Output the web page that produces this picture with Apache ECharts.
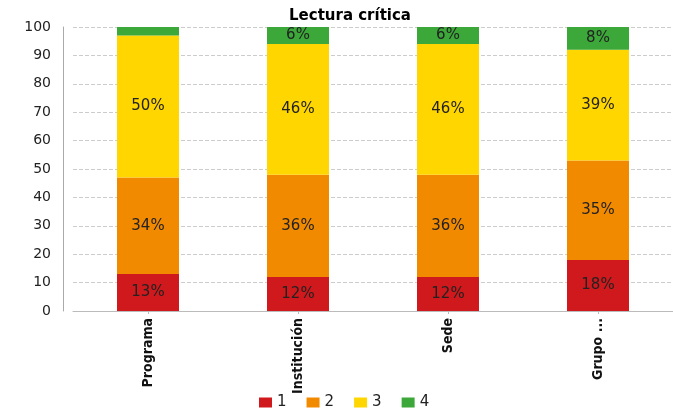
<!DOCTYPE html>
<html>
<head>
<meta charset="UTF-8" />
<title>Lectura crítica</title>
<script src="https://cdn.jsdelivr.net/npm/echarts@6/dist/echarts.min.js"></script>
</head>
<body style="margin:0">
<div id="chart" style="width: 673px; height: 410px;"></div>
<script>
// categorias y porcentajes por nivel
var categorias = ["Programa", "Institución", "Sede", "Grupo ..."];
var nivel1 = [13, 12, 12, 18];
var nivel2 = [34, 36, 36, 35];
var nivel3 = [50, 46, 46, 39];
var nivel4 = [3, 6, 6, 8];
var nombres = ["1", "2", "3", "4"];
var colores = ["#D0191C", "#F28A00", "#FFD600", "#3CA839"];

var myChart = echarts.init(document.getElementById("chart"));

function serie(nombre, datos, color) {
  return {
    name: nombre,
    type: "bar",
    stack: "total",
    barWidth: 62,
    data: datos,
    itemStyle: { color: color },
    label: {
      show: true,
      position: "inside",
      color: "#222",
      fontFamily: "DejaVu Sans",
      fontSize: 15,
      formatter: function (p) {
        return p.value < 5 ? "" : p.value + "%";
      }
    }
  };
}

var option = {
  animation: false,
  title: {
    text: "Lectura crítica",
    left: 345,
    textAlign: "center",
    top: 4,
    textStyle: { fontFamily: "DejaVu Sans", fontSize: 15, fontWeight: "bold", color: "#000" }
  },
  legend: {
    top: 390,
    left: 254,
    icon: "rect",
    itemWidth: 13,
    itemHeight: 10,
    itemGap: 20,
    textStyle: { fontFamily: "DejaVu Sans", fontSize: 15, color: "#222" },
    data: nombres
  },
  grid: { left: 73, right: 0, top: 27, bottom: 99 },
  xAxis: {
    type: "category",
    data: categorias,
    axisLine: { lineStyle: { color: "#bbb" } },
    axisTick: { show: true, alignWithLabel: true, length: 3, lineStyle: { color: "#bbb" } },
    axisLabel: {
      rotate: 90,
      interval: 0,
      margin: 7,
      color: "#111",
      fontFamily: "DejaVu Sans Condensed",
      fontWeight: "bold",
      fontSize: 14
    }
  },
  yAxis: {
    type: "value",
    min: 0,
    max: 100,
    interval: 10,
    offset: 10,
    axisLine: { show: true, lineStyle: { color: "#aaa" } },
    axisTick: { show: false },
    splitLine: { lineStyle: { color: "#ccc", type: "dashed" } },
    axisLabel: { color: "#222", fontFamily: "DejaVu Sans", fontSize: 14, margin: 12 }
  },
  series: [
    serie(nombres[0], nivel1, colores[0]),
    serie(nombres[1], nivel2, colores[1]),
    serie(nombres[2], nivel3, colores[2]),
    serie(nombres[3], nivel4, colores[3])
  ]
};

myChart.setOption(option);
</script>
</body>
</html>
